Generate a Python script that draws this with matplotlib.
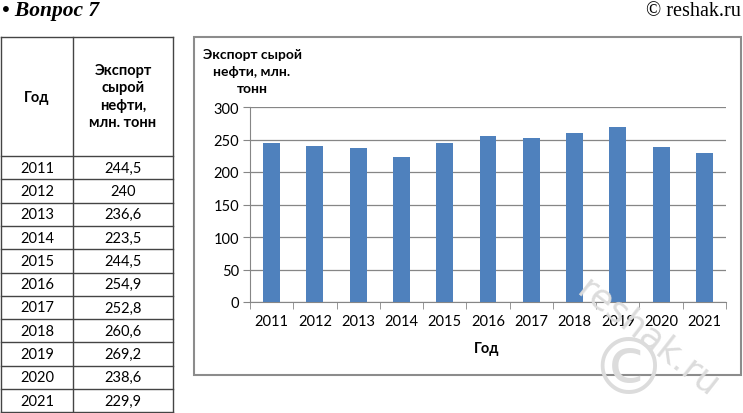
import numpy as np
import matplotlib.pyplot as plt
from matplotlib.patches import Rectangle

years = ['2011', '2012', '2013', '2014', '2015', '2016', '2017', '2018', '2019', '2020', '2021']
export = [244.5, 240, 236.6, 223.5, 244.5, 254.9, 252.8, 260.6, 269.2, 238.6, 229.9]
export_labels = ['244,5', '240', '236,6', '223,5', '244,5', '254,9', '252,8', '260,6', '269,2', '238,6', '229,9']
yticks = [0, 50, 100, 150, 200, 250, 300]

W, H = 743, 414
fig = plt.figure(figsize=(W / 100, H / 100), dpi=100)
plt.rcParams['font.family'] = ['Lato', 'DejaVu Sans']

def fx(x):
    return x / W

def fy(y):
    return 1 - y / H

# header
fig.text(fx(2), fy(11), '• Вопрос 7', family='Liberation Serif', fontsize=15.5,
         fontweight='bold', fontstyle='italic', va='center', ha='left')
fig.text(fx(741), fy(11), '© reshak.ru', family='Liberation Serif', fontsize=14.5,
         va='center', ha='right')

# table on the left
tl, tm, tr = 1, 73, 173
top, head_bot, row_h = 38, 157, 23.3
bot = head_bot + row_h * len(years)
lc = '#444444'
for x in (tl, tm, tr):
    fig.add_artist(plt.Line2D([fx(x), fx(x)], [fy(top), fy(bot)], color=lc, lw=1))
ys = [top, head_bot] + [head_bot + row_h * (i + 1) for i in range(len(years))]
for y in ys:
    fig.add_artist(plt.Line2D([fx(tl), fx(tr)], [fy(y), fy(y)], color=lc, lw=1))
fig.text(fx((tl + tm) / 2), fy(98), 'Год', ha='center', va='center', fontsize=10.5, fontweight='bold')
fig.text(fx((tm + tr) / 2), fy(97), 'Экспорт\nсырой\nнефти,\nмлн. тонн', ha='center', va='center',
         fontsize=10.5, fontweight='bold', linespacing=1.3)
for i, (yr, v) in enumerate(zip(years, export_labels)):
    yc = head_bot + row_h * (i + 0.5)
    fig.text(fx((tl + tm) / 2), fy(yc), yr, ha='center', va='center', fontsize=10.5)
    fig.text(fx((tm + tr) / 2), fy(yc), v, ha='center', va='center', fontsize=10.5)

# chart frame
fig.add_artist(Rectangle((fx(194), fy(376)), fx(741) - fx(194), fy(38) - fy(376),
                         fill=False, edgecolor='#8c8c8c', lw=1.5))

ax = fig.add_axes([fx(250), fy(303), fx(726) - fx(250), fy(108) - fy(303)])
x = np.arange(len(years))
ax.bar(x, export, width=0.39, color='#4F81BD', zorder=3)
ax.set_xlim(-0.5, len(years) - 0.5)
ax.set_ylim(0, 300)
ax.set_yticks(yticks)
ax.set_xticks(x)
ax.set_xticklabels(years)
ax.set_xticks(np.arange(-0.5, len(years)), minor=True)
ax.tick_params(axis='x', which='major', length=0, labelsize=10.5, pad=9)
ax.tick_params(axis='x', which='minor', length=5, color='#868686')
ax.tick_params(axis='y', length=5, color='#868686', labelsize=10.5, pad=3)
ax.grid(axis='y', color='#868686', lw=0.9, zorder=0)
for s in ('top', 'right'):
    ax.spines[s].set_visible(False)
ax.spines['left'].set_color('#868686')
ax.spines['bottom'].set_color('#868686')
ax.set_xlabel('Год', fontsize=10.5, fontweight='bold')
ax.xaxis.set_label_coords(0.498, -0.2)
fig.text(fx(252), fy(72), 'Экспорт сырой\nнефти, млн.\nтонн', ha='center', va='center',
         fontsize=10, fontweight='bold', linespacing=1.5)

# watermark
fig.text(fx(648), fy(338), 'reshak.ru', rotation=-38, fontsize=26, color='#dcdcdc',
         ha='center', va='center', family='DejaVu Sans', zorder=10)
fig.text(fx(628), fy(372), '©', fontsize=56, color='#dcdcdc', ha='center', va='center',
         family='DejaVu Sans', zorder=10)

fig.savefig('out.png', dpi=100)
